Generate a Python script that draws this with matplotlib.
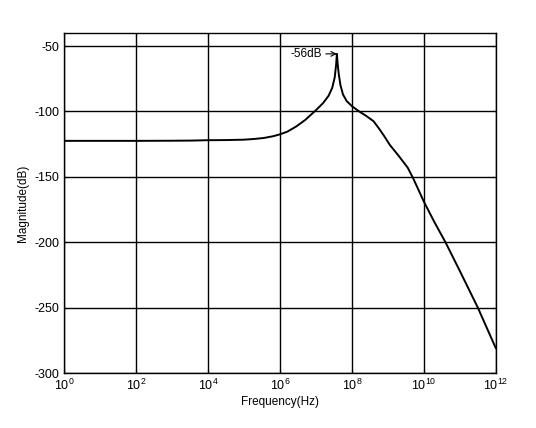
import matplotlib
matplotlib.use("Agg")
import matplotlib.pyplot as plt
import numpy as np

plt.rcParams['font.family'] = ['Liberation Sans', 'DejaVu Sans']
plt.rcParams['mathtext.default'] = 'regular'
plt.rcParams['axes.unicode_minus'] = False

# frequency as log10 exponent, magnitude in dB
log_freq = [0, 1, 2, 3, 3.5, 4, 4.5, 5.0, 5.3, 5.55, 5.8, 6.0, 6.2, 6.45, 6.7,
            7.0, 7.2, 7.35, 7.45, 7.52, 7.56, 7.58, 7.60, 7.63, 7.68, 7.75, 7.85,
            8.0, 8.2, 8.4, 8.6, 8.75, 8.9, 9.05, 9.3, 9.55, 9.7, 10.0, 10.3,
            10.6, 11.0, 11.5, 12.0]
mag_db = [-122.5, -122.5, -122.5, -122.4, -122.3, -122, -121.9, -121.6, -121,
          -120.3, -119, -117.5, -115.5, -111.5, -106.5, -99, -93.5, -88, -82,
          -74, -64, -56, -63, -71, -80, -87, -92, -96, -100, -103.5, -107.5,
          -113, -119, -125.5, -134, -143, -151, -169, -185, -200, -222, -250,
          -281]

peak_label = "-56dB"
x_ticks = [1e0, 1e2, 1e4, 1e6, 1e8, 1e10, 1e12]
y_ticks = [-300, -250, -200, -150, -100, -50]

freq = 10.0 ** np.array(log_freq)

fig = plt.figure(figsize=(5.36, 4.28), dpi=100)
ax = fig.add_axes([0.12, 0.1285, 0.805, 0.7945])

ax.semilogx(freq, mag_db, color='black', lw=1.4)

ax.set_xlim(1e0, 1e12)
ax.set_ylim(-300, -40)
ax.set_xticks(x_ticks)
ax.set_yticks(y_ticks)
ax.xaxis.set_minor_locator(matplotlib.ticker.NullLocator())
ax.grid(True, color='black', lw=1.0, ls='-')
ax.tick_params(direction='in', top=True, right=True, length=3, labelsize=9)
for s in ax.spines.values():
    s.set_linewidth(1.0)

ax.set_xlabel('Frequency(Hz)', fontsize=8.5, labelpad=2)
ax.set_ylabel('Magnitude(dB)', fontsize=8.5)

i_peak = int(np.argmax(mag_db))
ax.annotate(peak_label, xy=(freq[i_peak], mag_db[i_peak]),
            xytext=(10 ** 6.28, mag_db[i_peak]), fontsize=8.5, va='center',
            arrowprops=dict(arrowstyle='->', color='black', lw=0.8,
                            shrinkA=1, shrinkB=0))

fig.savefig('out.png', dpi=100)
